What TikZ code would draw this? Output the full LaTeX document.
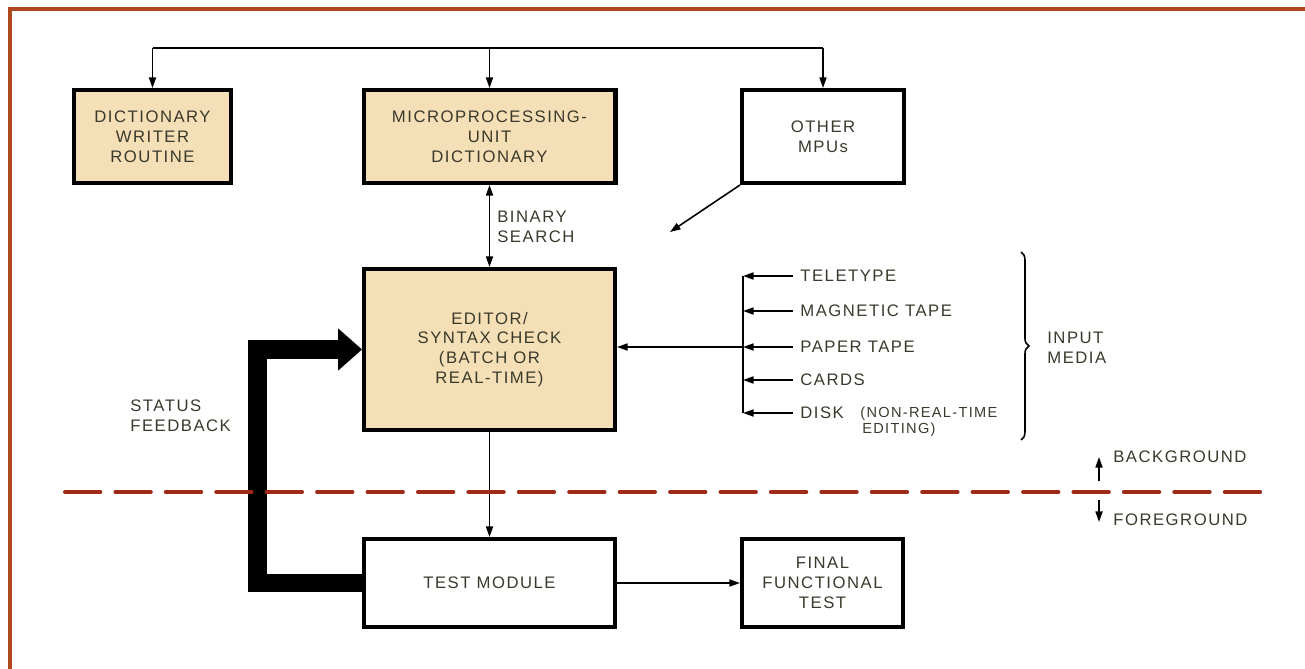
\documentclass[tikz,border=0pt]{standalone}
\usepackage{fontspec}
\setmainfont{Liberation Sans}[LetterSpace=9]
\usetikzlibrary{arrows.meta,decorations.pathreplacing}
\definecolor{tanfill}{HTML}{F5DFB6}
\definecolor{ink}{HTML}{3A3A2C}
\definecolor{framecol}{HTML}{B0481E}
\definecolor{dashred}{HTML}{9E2A17}
\tikzset{
  box/.style={draw=black, line width=2.3pt, align=center, text=ink,
    font=\fontsize{9.5}{11.3}\selectfont, inner sep=0pt},
  tanbox/.style={box, fill=tanfill},
  whitebox/.style={box, fill=white},
  thinline/.style={line width=0.9pt, draw=black},
  arr/.style={thinline, -{Triangle[length=6pt,width=4pt]}},
  darr/.style={thinline, {Triangle[length=6pt,width=4pt]}-{Triangle[length=6pt,width=4pt]}},
  lbl/.style={text=ink, font=\fontsize{9.5}{11.3}\selectfont, inner sep=0pt, align=left},
  medialbl/.style={lbl, anchor=west, inner xsep=4pt},
  smalllbl/.style={text=ink, font=\fontsize{8.3}{9.6}\selectfont, inner sep=0pt, anchor=west},
  feedback/.style={line width=10.5pt, line join=miter, draw=black,
    -{Triangle[length=13.6pt 0 0, width=24pt 0 0, line width=0pt 0 0]}},
  divider/.style={draw=dashred, line width=2.3pt, line cap=round,
    dash pattern=on 20.1pt off 8.6pt},
  framestyle/.style={draw=framecol, line width=2.3pt},
  bracestyle/.style={thinline, decorate, decoration={brace, amplitude=4.5pt}}
}
\begin{document}
\begin{tikzpicture}[x=0.02cm, y=-0.02cm]
\useasboundingbox (0,0) rectangle (1305,669);
% frame
\draw[framestyle] (10,669) -- (10,9) -- (1305,9);

% boxes
\node[tanbox, minimum width=3.14cm, minimum height=1.86cm] (dict) at (152.5,136.5)
  {DICTIONARY\\WRITER\\ROUTINE};
\node[tanbox, minimum width=5.04cm, minimum height=1.86cm] (mpu) at (489.5,136.5)
  {MICROPROCESSING-\\UNIT\\DICTIONARY};
\node[whitebox, minimum width=3.24cm, minimum height=1.86cm] (other) at (823,136.5)
  {OTHER\\MPUs};
\node[tanbox, minimum width=5.02cm, minimum height=3.22cm] (editor) at (489.5,349.5)
  {EDITOR/\\SYNTAX CHECK\\(BATCH OR\\REAL-TIME)};
\node[whitebox, minimum width=5.02cm, minimum height=1.76cm] (test) at (489.5,583)
  {TEST MODULE};
\node[whitebox, minimum width=3.22cm, minimum height=1.76cm] (final) at (822.5,583)
  {FINAL\\FUNCTIONAL\\TEST};

% top bus
\coordinate (busL) at (152.5,48);
\coordinate (busM) at (489.5,48);
\coordinate (busR) at (823,48);
\draw[thinline] (busL) -- (busR);
\draw[arr] (busL) -- (dict.north);
\draw[arr] (busM) -- (mpu.north);
\draw[arr] (busR) -- (other.north);

% other MPUs diagonal
\coordinate (otip) at (670,232);
\draw[arr] (other.south west) -- (otip);

% binary search
\draw[darr] (mpu.south) -- (editor.north);
\node[lbl, anchor=west] (bs) at (497,227) {BINARY\\SEARCH};

% editor to test, test to final
\draw[arr] (editor.south) -- (test.north);
\draw[arr] (test.east) -- (final.west);

% status feedback
\coordinate (fb) at (257.5,583);
\draw[feedback] (test.west) -- (fb) |- (editor.west);
\node[lbl, anchor=west] (sf) at (130,416) {STATUS\\FEEDBACK};

% input media
\coordinate (vt) at (743,276);
\coordinate (vb) at (743,413);
\draw[thinline] (vt) -- (vb);
\node[medialbl] (tt) at (793,276) {TELETYPE};
\node[medialbl] (mt) at (793,311) {MAGNETIC TAPE};
\node[medialbl] (pt) at (793,347) {PAPER TAPE};
\node[medialbl] (cd) at (793,380) {CARDS};
\node[medialbl] (dk) at (793,413) {DISK};
\node[smalllbl] (nrtA) at (860,414) {(NON-REAL-TIME};
\node[smalllbl] (nrtB) at (862,430) {EDITING)};
\draw[arr] (tt.west) -- (tt.west -| vt);
\draw[arr] (mt.west) -- (mt.west -| vt);
\draw[arr] (pt.west) -- (pt.west -| vt);
\draw[arr] (cd.west) -- (cd.west -| vt);
\draw[arr] (dk.west) -- (dk.west -| vt);
\draw[arr] (pt.west -| vt) -- (pt.west -| editor.east);

% brace
\coordinate (brT) at (1021,252);
\coordinate (brB) at (1021,440);
\draw[bracestyle] (brT) -- (brB);
\node[lbl, anchor=west] (im) at (1047,348) {INPUT\\MEDIA};

% divider
\coordinate (dl) at (65,492);
\coordinate (dr) at (1268,492);
\draw[divider] (dl) -- (dr);

% background / foreground
\coordinate (bgA) at (1099,481);
\coordinate (bgB) at (1099,457);
\coordinate (fgA) at (1099,500);
\coordinate (fgB) at (1099,522);
\draw[arr] (bgA) -- (bgB);
\draw[arr] (fgA) -- (fgB);
\node[lbl, anchor=west] (bg) at (1113,457) {BACKGROUND};
\node[lbl, anchor=west] (fg) at (1113,520) {FOREGROUND};
\end{tikzpicture}
\end{document}
